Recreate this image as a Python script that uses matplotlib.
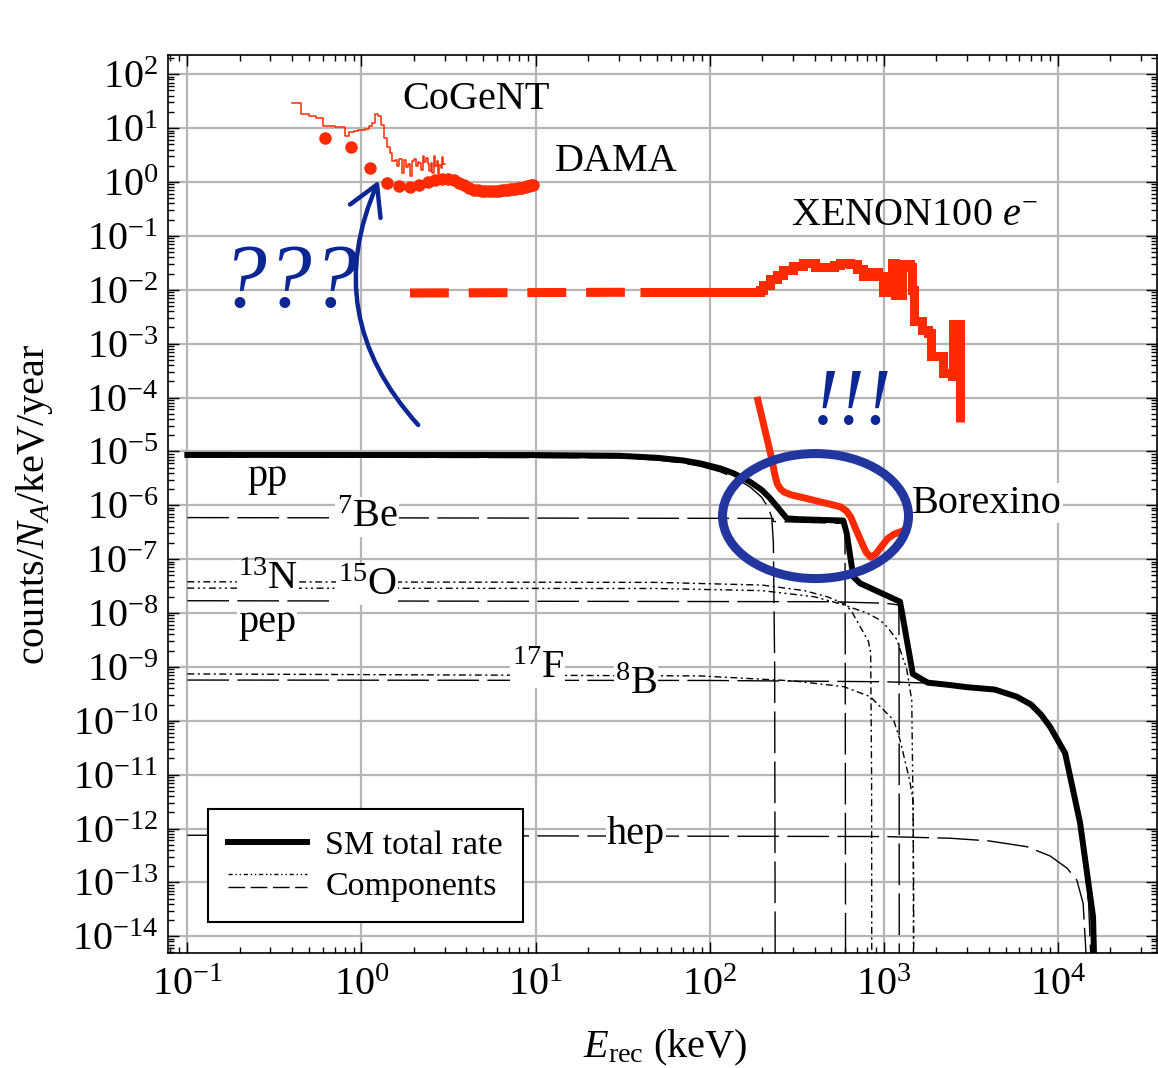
import matplotlib.pyplot as plt
from matplotlib.legend_handler import HandlerBase
from matplotlib.lines import Line2D
from matplotlib.patches import Ellipse, FancyArrowPatch, ArrowStyle
from matplotlib.ticker import LogLocator, NullFormatter
from matplotlib.transforms import ScaledTranslation

plt.rcParams["font.family"] = ["Liberation Serif", "DejaVu Serif"]
plt.rcParams["mathtext.fontset"] = "custom"
plt.rcParams["mathtext.rm"] = "Liberation Serif"
plt.rcParams["mathtext.it"] = "Liberation Serif:italic"
plt.rcParams["mathtext.bf"] = "Liberation Serif:bold"

RED = "#ff2a00"
INK = "#0c2693"
RING = "#2336a0"

# Standard Model neutrino-electron scattering rate (keV, counts/N_A/keV/year)
sm_energy = [0.1, 10, 30, 50, 70, 88, 114.5, 137, 170, 199, 222, 248, 277, 330,
             585, 612, 668, 730, 1239, 1466, 1786, 2400, 3000, 4325, 5797, 7000,
             7993, 9010, 10990, 13400, 15900, 16100]
sm_rate = [8.6e-6, 8.55e-6, 8.3e-6, 7.6e-6, 6.8e-6, 6.0e-6, 4.85e-6, 3.92e-6,
           2.73e-6, 1.92e-6, 1.35e-6, 8.8e-7, 5.7e-7, 5.5e-7, 5.2e-7, 3.0e-7,
           4.7e-8, 3.56e-8, 1.62e-8, 7.4e-10, 5.1e-10, 4.6e-10, 4.2e-10,
           3.8e-10, 2.8e-10, 2.0e-10, 1.3e-10, 7.7e-11, 2.5e-11, 1.26e-12,
           2.3e-14, 4.5e-15]

# individual solar neutrino sources
pp_energy = [0.1, 30, 50, 70, 88, 114.5, 137, 170, 199, 217, 227, 232, 236, 238]
pp_rate = [7.9e-6, 7.6e-6, 6.9e-6, 6.1e-6, 5.3e-6, 4.2e-6, 3.3e-6, 2.2e-6, 1.4e-6,
           9.0e-7, 6.0e-7, 2e-7, 1e-9, 1e-16]
be7_energy = [0.1, 231, 231.5, 598, 600, 603]
be7_rate = [5.9e-7, 5.7e-7, 5.0e-7, 4.6e-7, 3e-9, 1e-16]
n13_energy = [0.1, 50, 200, 350, 474, 588, 650, 730, 815, 840, 850, 853]
n13_rate = [3.8e-8, 3.7e-8, 3.3e-8, 2.6e-8, 2.0e-8, 1.5e-8, 1.1e-8, 5.6e-9,
            3.0e-9, 1.8e-9, 1e-11, 1e-16]
o15_energy = [0.1, 50, 200, 400, 566, 800, 951, 1050, 1188, 1302, 1347, 1446,
              1475, 1482]
o15_rate = [2.9e-8, 2.85e-8, 2.6e-8, 2.0e-8, 1.47e-8, 1.0e-8, 7.4e-9, 5.4e-9,
            3.2e-9, 1.28e-9, 1.0e-9, 2.4e-10, 1e-12, 1e-16]
pep_energy = [0.1, 500, 1000, 1150, 1220, 1224, 1226]
pep_rate = [1.69e-8, 1.62e-8, 1.52e-8, 1.45e-8, 1.4e-8, 1e-10, 1e-16]
f17_energy = [0.1, 88, 300, 588, 836, 1138, 1238, 1406, 1470, 1482, 1485]
f17_rate = [7.4e-10, 6.8e-10, 5.5e-10, 4.3e-10, 2.8e-10, 1.03e-10, 4.4e-11,
            7.9e-12, 3.4e-12, 1e-13, 1e-16]
b8_energy = [0.1, 100, 1000, 1786, 2400, 3000, 4325, 5797, 7000, 7993, 9010,
             10990, 13400, 15000, 15700, 16000]
b8_rate = [5.7e-10, 5.6e-10, 5.3e-10, 5.0e-10, 4.5e-10, 4.1e-10, 3.75e-10,
           2.75e-10, 1.95e-10, 1.27e-10, 7.5e-11, 2.4e-11, 1.1e-12, 4e-14,
           1e-15, 1e-16]
hep_energy = [0.1, 1000, 2400, 4000, 6620, 9000, 11240, 12830, 13940, 14300,
              14500, 14600]
hep_rate = [7.5e-13, 7.1e-13, 6.6e-13, 5.9e-13, 4.6e-13, 3.1e-13, 1.85e-13,
            1.1e-13, 4.1e-14, 9.8e-15, 4.5e-15, 1e-16]

# CoGeNT spectrum, 0.05 keV bins
cogent_edges = [0.40, 0.45, 0.50, 0.55, 0.60, 0.65, 0.70, 0.75, 0.80, 0.85, 0.90,
                0.95, 1.00, 1.05, 1.10, 1.15, 1.20, 1.25, 1.30, 1.35, 1.40, 1.45,
                1.50, 1.55, 1.60, 1.65, 1.70, 1.75, 1.80, 1.85, 1.90, 1.95, 2.00,
                2.05, 2.10, 2.15, 2.20, 2.25, 2.30, 2.35, 2.40, 2.45, 2.50, 2.55,
                2.60, 2.65, 2.70, 2.75, 2.80, 2.85, 2.90, 2.95, 3.00]
cogent_rate = [29.6, 18.3, 16.8, 15.2, 10.9, 10.8, 10.6, 10.4, 7.1, 8.6, 9.0, 9.2,
               9.4, 9.6, 11.0, 12.5, 18.3, 17.0, 11.5, 6.5, 4.5, 3.4, 2.5, 2.6,
               2.0, 2.7, 1.5, 2.6, 1.9, 2.2, 1.3, 2.5, 2.7, 2.0, 2.4, 2.3, 1.7,
               3.0, 2.4, 2.8, 2.2, 1.6, 2.3, 1.5, 3.1, 2.0, 2.5, 1.4, 2.1, 1.8,
               2.9, 2.2]

# DAMA rate
dama_energy = [0.62, 0.87, 1.12, 1.40, 1.65, 1.90, 2.15, 2.40, 2.65, 2.90, 3.15,
               3.40, 3.65, 3.90, 4.15, 4.40, 4.65, 4.90, 5.15, 5.40, 5.65, 5.90,
               6.15, 6.40, 6.65, 6.90, 7.15, 7.40, 7.65, 7.90, 8.15, 8.40, 8.65,
               8.90, 9.15, 9.40, 9.65]
dama_rate = [6.6, 4.4, 1.84, 0.97, 0.84, 0.80, 0.88, 1.00, 1.10, 1.16, 1.16, 1.08,
             0.97, 0.87, 0.78, 0.72, 0.70, 0.69, 0.68, 0.68, 0.68, 0.69, 0.69,
             0.70, 0.71, 0.72, 0.73, 0.74, 0.75, 0.76, 0.77, 0.79, 0.81, 0.83,
             0.85, 0.87, 0.89]

# XENON100 electron-recoil background (step values from each energy on);
# below ~40 keV it is an extrapolation
xenon_energy = [1.9, 39.8, 149, 194, 203, 222, 243, 265, 302, 345, 377, 400, 470,
                520, 560, 640, 699, 762, 833, 930, 993, 1061, 1120, 1160, 1270,
                1414, 1446, 1490, 1651, 1802, 1860, 2200, 2456, 2508, 2740]
xenon_rate = [8.7e-3, 9.0e-3, 9.2e-3, 9.8e-3, 1.25e-2, 1.6e-2, 1.9e-2, 2.3e-2,
              2.8e-2, 3.2e-2, 3.1e-2, 2.6e-2, 2.7e-2, 2.9e-2, 3.1e-2, 3.0e-2,
              2.4e-2, 1.8e-2, 2.1e-2, 1.8e-2, 9.0e-3, 1.1e-2, 3.2e-2, 8.0e-3,
              3.0e-2, 2.6e-2, 1.0e-2, 2.6e-3, 1.8e-3, 1.6e-3, 5.9e-4, 2.9e-4,
              2.5e-4, 2.3e-3, 3.5e-5]
xenon_extrapolated = 2  # first two points are drawn dashed

# Borexino
borexino_energy = [187, 228, 236, 244, 255, 267, 295, 333, 434, 520, 566, 610,
                   645, 690, 737, 790, 842, 900, 961, 1050, 1148, 1371]
borexino_rate = [1.03e-4, 6.9e-6, 3.8e-6, 2.51e-6, 2.0e-6, 1.76e-6, 1.55e-6,
                 1.42e-6, 1.15e-6, 1.0e-6, 9.3e-7, 7.8e-7, 6.05e-7, 3.6e-7,
                 2.21e-7, 1.35e-7, 1.08e-7, 1.25e-7, 1.66e-7, 2.4e-7, 2.92e-7,
                 3.62e-7]

LONG = (0, (30, 6))
DOTDASH = (0, (5, 2.5, 1.5, 2.5))
DOTDOTDASH = (0, (5, 2.5, 1.5, 2.5, 1.5, 2.5))

components = [
    (pp_energy, pp_rate, LONG),
    (be7_energy, be7_rate, LONG),
    (n13_energy, n13_rate, DOTDASH),
    (o15_energy, o15_rate, DOTDOTDASH),
    (pep_energy, pep_rate, LONG),
    (f17_energy, f17_rate, DOTDASH),
    (b8_energy, b8_rate, LONG),
    (hep_energy, hep_rate, LONG),
]


class StackedLines(HandlerBase):
    """Legend handle that draws several line styles above each other."""

    def create_artists(self, legend, orig_handle, xdescent, ydescent, width,
                       height, fontsize, trans):
        artists = []
        for i, h in enumerate(orig_handle):
            y = height * (0.85 - 0.55 * i) - ydescent
            line = Line2D([-xdescent, width - xdescent], [y, y])
            line.update_from(h)
            line.set_transform(trans)
            artists.append(line)
        return artists


fig = plt.figure(figsize=(11.58, 10.68), dpi=100)
ax = fig.add_axes([0.1451, 0.1077, 0.8541, 0.8408])
ax.set_xscale("log")
ax.set_yscale("log")
ax.set_xlim(10 ** -1.111, 10 ** 4.569)
ax.set_ylim(10 ** -14.31, 10 ** 2.357)

ax.xaxis.set_major_locator(LogLocator(base=10, numticks=20))
ax.xaxis.set_minor_locator(LogLocator(base=10, subs=range(2, 10), numticks=100))
ax.yaxis.set_major_locator(LogLocator(base=10, numticks=40))
ax.yaxis.set_minor_locator(LogLocator(base=10, subs=range(2, 10), numticks=400))
ax.xaxis.set_minor_formatter(NullFormatter())
ax.yaxis.set_minor_formatter(NullFormatter())

ax.grid(True, which="major", color="#b6b6b6", lw=1.6)
ax.set_axisbelow(True)
ax.tick_params(which="both", direction="in", top=True, right=True,
               labelsize=29, width=1.0)
ax.tick_params(which="major", length=8)
ax.tick_params(which="minor", length=4)
ax.tick_params(axis="x", pad=10)
ax.tick_params(axis="y", pad=7)
for spine in ax.spines.values():
    spine.set_linewidth(1.2)

for energy, rate, style in components:
    ax.plot(energy, rate, color="black", lw=1.0, linestyle=style, zorder=2)
ax.plot(sm_energy, sm_rate, color="black", lw=4.3, zorder=3,
        solid_joinstyle="round")

# experimental data
ax.step(cogent_edges, cogent_rate + [cogent_rate[-1]], where="post",
        color=RED, lw=1.1, zorder=4)
ax.plot(dama_energy, dama_rate, "o", color=RED, ms=9, mec="none", zorder=4)
ax.plot(xenon_energy[:xenon_extrapolated], xenon_rate[:xenon_extrapolated],
        color=RED, lw=6.5, linestyle=(0, (4.3, 2.2)), dash_capstyle="butt",
        zorder=4)
ax.step(xenon_energy[xenon_extrapolated - 1:], xenon_rate[xenon_extrapolated - 1:],
        where="post", color=RED, lw=6.5, solid_joinstyle="miter",
        solid_capstyle="butt", zorder=4)
ax.plot(borexino_energy, borexino_rate, color=RED, lw=5.0,
        solid_capstyle="butt", solid_joinstyle="round", zorder=4)

# labels
white = dict(facecolor="white", edgecolor="none", pad=1)
big = 29
ax.text(4.55, 33.3, "CoGeNT", fontsize=big, ha="center", va="center", zorder=6)
ax.text(29.0, 2.35, "DAMA", fontsize=big, ha="center", va="center", zorder=6)
ax.text(1510, 0.234, "XENON100 $e^{-}$", fontsize=big, ha="center",
        va="center", zorder=6)
ax.text(3920, 1.1e-6, "Borexino", fontsize=big, ha="center", va="center",
        bbox=white, zorder=6)
source_labels = [
    (0.287, 3.49e-6, "pp"),
    (1.076, 6.05e-7, "$^{7}$Be"),
    (0.29, 4.1e-8, "$^{13}$N"),
    (1.076, 3.3e-8, "$^{15}$O"),
    (0.287, 6.8e-9, "pep"),
    (10.3, 9.5e-10, "$^{17}$F"),
    (37.7, 4.8e-10, "$^{8}$B"),
    (37.7, 7.6e-13, "hep"),
]
for x, y, name in source_labels:
    ax.text(x, y, name, fontsize=big, ha="center", va="center", bbox=white,
            zorder=2.5)

ax.set_xlabel("$E_{\\rm rec}$ (keV)", fontsize=big)
ax.set_ylabel("counts/$N_A$/keV/year", fontsize=big)
ax.xaxis.set_label_coords(0.5025, -0.0835)
ax.yaxis.set_label_coords(-0.114, 0.5)

# hand-drawn annotations
ring = Ellipse((0, 0), width=1.86, height=1.25, fill=False, lw=6.5,
               edgecolor=RING, zorder=7,
               transform=fig.dpi_scale_trans + ScaledTranslation(405, 6.3e-7, ax.transData))
ax.add_artist(ring)
arrow = FancyArrowPatch((2.17, 2.83e-5), (1.277, 1.19),
                        connectionstyle="arc3,rad=-0.33",
                        arrowstyle=ArrowStyle("->", head_length=0.7, head_width=0.4),
                        mutation_scale=30, color=INK, lw=3.2, zorder=7)
ax.add_patch(arrow)
ax.text(0.388, 1.22e-2, "???", fontsize=66, style="italic", color=INK,
        ha="center", va="center", zorder=7)
ax.text(657, 7.3e-5, "!!!", fontsize=58, style="italic", color=INK,
        ha="center", va="center", zorder=7)

# legend
sm_handle = Line2D([], [], color="black", lw=4.3)
comp_handle = (Line2D([], [], color="black", lw=1.0, linestyle=(0, (3, 2, 1, 2, 1, 2))),
               Line2D([], [], color="black", lw=1.0, linestyle=(0, (12, 4))))
leg = ax.legend([sm_handle, comp_handle], ["SM total rate", "Components"],
                handler_map={tuple: StackedLines()}, loc="lower left",
                bbox_to_anchor=(0.0404, 0.0345), borderaxespad=0,
                fontsize=24.5, fancybox=False, framealpha=1, edgecolor="black",
                handlelength=2.3, handletextpad=0.55, borderpad=0.6,
                labelspacing=0.3)
leg.get_frame().set_linewidth(1.5)
leg.set_zorder(8)

fig.savefig("out.png", dpi=100)
